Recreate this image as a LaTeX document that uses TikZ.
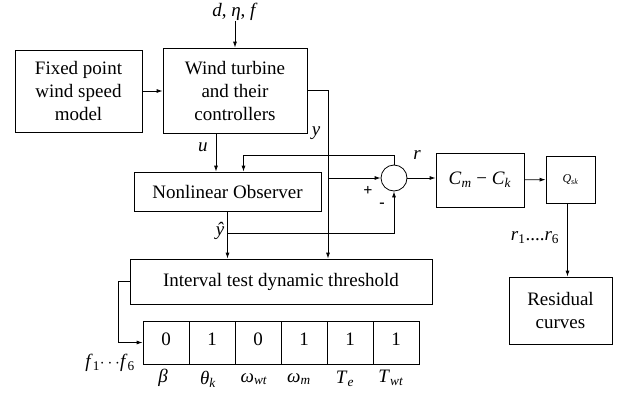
\documentclass[tikz,border=0pt]{standalone}
\usepackage{fontspec}
\setmainfont{Liberation Serif}
\usetikzlibrary{arrows.meta, positioning, calc}
\newcommand{\mv}[1]{\textit{#1}}
\newcommand{\sbx}[1]{\textsubscript{\textit{#1}}}

\begin{document}
\begin{tikzpicture}[
  x=1pt, y=-1pt,
  block/.style={rectangle, draw, thick, align=center, inner sep=0pt,
    font=\fontsize{19}{23}\selectfont},
  bit/.style={block, minimum width=46pt, minimum height=43pt, text depth=6pt},
  arrow/.style={-{Latex[length=6pt,width=4pt]}, thick},
  lbl/.style={font=\fontsize{19}{23}\selectfont, inner sep=0pt},
  every node/.style={font=\fontsize{19}{23}\selectfont}
]
\useasboundingbox (0,0) rectangle (627,394);

\node[block, minimum width=127pt, minimum height=82pt] (fixed) at (78.5,91) {Fixed point\\wind speed\\model};
\node[block, minimum width=144pt, minimum height=85pt] (turbine) at (235,90.5) {Wind turbine\\and their\\controllers};
\node[lbl] (dist) at (235,12) {\mv{d}, \mv{η}, \mv{f}};
\node[block, minimum width=187pt, minimum height=39pt] (observer) at (227.5,191.5) {Nonlinear Observer};
\node[circle, draw, thick, minimum size=26pt, inner sep=0pt] (sum) at (394,178) {};
\node[block, minimum width=88pt, minimum height=54pt] (cmck) at (480,180) {\mv{C}\sbx{m} − \mv{C}\sbx{k}};
\node[block, minimum width=49pt, minimum height=47pt, font=\fontsize{12}{14}\selectfont] (qsk) at (570.5,179.5) {\mv{Q}\sbx{sk}};
\node[block, minimum width=103pt, minimum height=67pt] (resid) at (560.5,310.5) {Residual\\curves};
\node[block, minimum width=302pt, minimum height=45pt] (interval) at (281,281.5) {Interval test dynamic threshold};

% fault vector
\node[bit] (b1) at (166,342.5) {0};
\node[bit] (b2) at (212,342.5) {1};
\node[bit] (b3) at (258,342.5) {0};
\node[bit] (b4) at (304,342.5) {1};
\node[bit] (b5) at (350,342.5) {1};
\node[bit] (b6) at (396,342.5) {1};
\node[lbl] at (163,378) {\mv{β}};
\node[lbl] at (208,379) {\mv{θ}\sbx{k}};
\node[lbl] at (254,379) {\mv{ω}\sbx{wt}};
\node[lbl] at (299,379) {\mv{ω}\sbx{m}};
\node[lbl] at (345,379) {\mv{T}\sbx{e}};
\node[lbl] at (391,378) {\mv{T}\sbx{wt}};
\node[lbl] at (110,363) {\mv{f}\textsubscript{1}$\cdots$\mv{f}\textsubscript{6}};

\coordinate (ytap) at (328,178);
\coordinate (yhat) at (227.5,233);

\draw[arrow] (dist) -- (turbine);
\draw[arrow] (fixed.east) -- (fixed.east -| turbine.west);
\draw[arrow] ([xshift=-19pt]turbine.south) -- node[left, lbl, xshift=-8pt, pos=0.35]{\mv{u}} ([xshift=-19pt]turbine.south |- observer.north);
\draw[thick] (turbine.east) -| (ytap);
\draw[arrow] (ytap) -- (ytap |- interval.north);
\draw[arrow] (ytap) -- (sum.west);
\node[lbl] at (316,133) {\mv{y}};
\draw[arrow] (sum.north) -- ++(0,-9) -| ([xshift=16pt]observer.north);
\draw[arrow] (observer.south) -- (observer.south |- interval.north);
\draw[arrow] (yhat) -| (sum.south);
\node[lbl] at (220,231) {\mv{ŷ}};
\node[lbl, font=\bfseries\fontsize{16}{18}\selectfont] at (368,191) {+};
\node[lbl, font=\bfseries\fontsize{16}{18}\selectfont] at (382,205) {-};
\draw[arrow] (sum.east) -- (sum.east -| cmck.west);
\node[lbl] at (417,155) {\mv{r}};
\draw[arrow] (cmck) -- (qsk);
\draw[arrow] ([xshift=-3pt]qsk.south) -- ([xshift=-3pt]qsk.south |- resid.north);
\node[lbl] at (535,238) {\mv{r}\textsubscript{1}....\mv{r}\textsubscript{6}};
\draw[arrow] (interval.west) -- ++(-11,0) |- (b1.west);
\end{tikzpicture}
\end{document}
